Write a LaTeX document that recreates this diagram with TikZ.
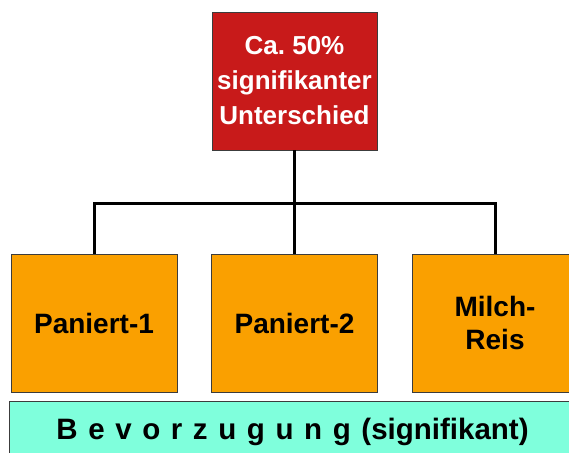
\documentclass[tikz,border=0pt]{standalone}
\usepackage{fontspec}
\setmainfont{Liberation Sans}
\frenchspacing
\newcommand\mywidespace{\spaceskip=10.6pt\relax}
\definecolor{boxred}{RGB}{200,26,26}
\definecolor{boxorange}{RGB}{250,160,0}
\definecolor{boxcyan}{RGB}{127,255,220}
\definecolor{edgegray}{RGB}{60,60,60}
\begin{document}
\begin{tikzpicture}[x=1pt,y=1pt,
  redbox/.style={draw=edgegray,line width=0.8pt,fill=boxred,text=white,
    minimum width=165pt,minimum height=138pt,align=center,inner sep=0pt,
    font=\fontsize{26}{35}\selectfont\bfseries},
  orangebox/.style={draw=edgegray,line width=0.8pt,fill=boxorange,text=black,
    minimum width=166pt,minimum height=138pt,align=center,inner sep=0pt,
    font=\fontsize{28}{33}\selectfont\bfseries},
  cyanbox/.style={draw=edgegray,line width=0.8pt,fill=boxcyan,text=black,
    minimum width=567pt,minimum height=62pt,inner sep=0pt,
    font=\fontsize{29.5}{34}\selectfont\bfseries\mywidespace},
  conn/.style={line width=3pt,draw=black}]
\useasboundingbox (0,0) rectangle (569,-452);
\clip (0,0) rectangle (569,-452);
\coordinate (j) at (294.5,-203);
\node[redbox] (top) at (294.5,-81) {Ca. 50\%\\signifikanter\\Unterschied};
\node[orangebox] (p1) at (94,-323) {Paniert-1};
\node[orangebox] (p2) at (294.5,-323) {Paniert-2};
\node[orangebox] (p3) at (495,-323) {Milch-\\Reis};
\node[cyanbox] (bev) at (292.5,-432) {B e v o r z u g u n g (signifikant)};
\draw[conn] (top.south) -- (p2.north);
\draw[conn] (p1.north) |- (j) -| (p3.north);
\end{tikzpicture}
\end{document}
